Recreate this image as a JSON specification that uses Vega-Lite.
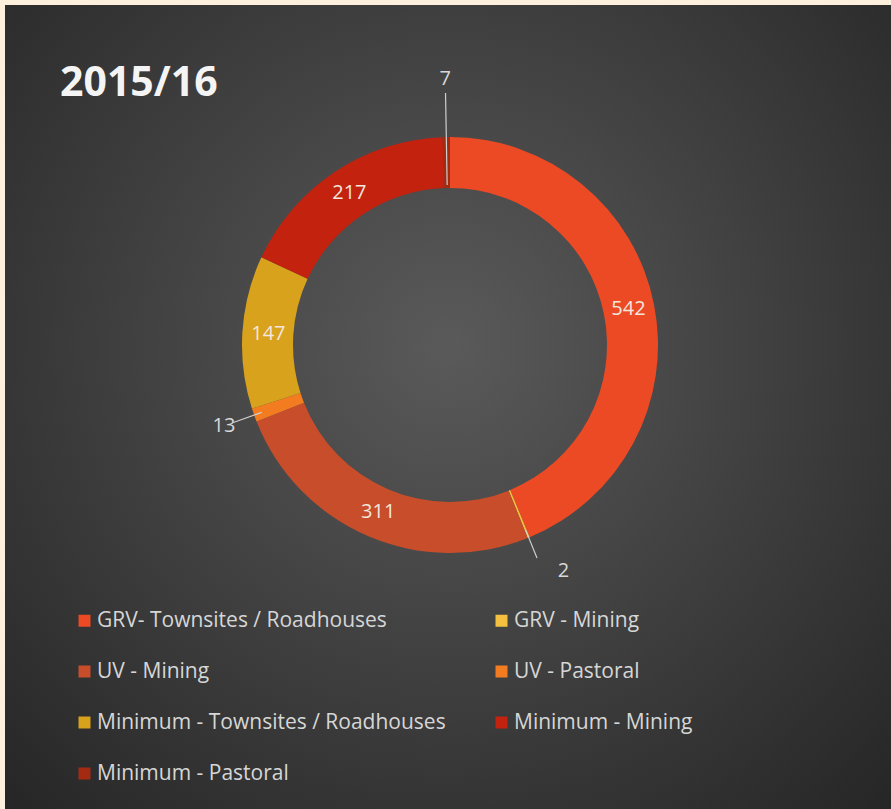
{
  "$schema": "https://vega.github.io/schema/vega-lite/v6.json",
  "width": 886,
  "height": 804,
  "autosize": "none",
  "padding": {"left": 5, "top": 5, "right": 0, "bottom": 0},
  "background": "#fdf0dc",
  "config": {"view": {"stroke": null}},
  "title": {
    "text": "2015/16",
    "anchor": "start",
    "frame": "group",
    "orient": "top",
    "offset": -100,
    "dx": 55,
    "font": "Open Sans",
    "fontSize": 41,
    "fontWeight": "bold",
    "color": "#f4f4f4"
  },
  "datasets": {
    "segments": [
      {"i": 1, "category": "GRV- Townsites / Roadhouses", "value": 542},
      {"i": 2, "category": "GRV - Mining", "value": 2},
      {"i": 3, "category": "UV - Mining", "value": 311},
      {"i": 4, "category": "UV - Pastoral", "value": 13},
      {"i": 5, "category": "Minimum -  Townsites / Roadhouses", "value": 147},
      {"i": 6, "category": "Minimum - Mining", "value": 217},
      {"i": 7, "category": "Minimum - Pastoral", "value": 7}
    ],
    "panel": [{"panel": "background"}]
  },
  "layer": [
    {
      "data": {"name": "panel"},
      "mark": {
        "type": "rect",
        "x": 0,
        "x2": "width",
        "y": 0,
        "y2": "height",
        "fill": {
          "gradient": "radial",
          "x1": 0.5, "y1": 0.43, "r1": 0,
          "x2": 0.5, "y2": 0.43, "r2": 0.72,
          "stops": [
            {"offset": 0, "color": "#5a5a5a"},
            {"offset": 1, "color": "#262626"}
          ]
        }
      },
      "encoding": {}
    },
    {
      "data": {"name": "segments"},
      "mark": {"type": "arc", "radius": 208, "radius2": 157, "x": 445, "y": 340},
      "encoding": {
        "theta": {"field": "value", "type": "quantitative", "stack": true},
        "order": {"field": "i", "type": "quantitative"},
        "color": {
          "field": "category",
          "type": "nominal",
          "sort": null,
          "scale": {
            "domain": ["GRV- Townsites / Roadhouses", "GRV - Mining", "UV - Mining", "UV - Pastoral", "Minimum -  Townsites / Roadhouses", "Minimum - Mining", "Minimum - Pastoral"],
            "range": ["#ec4a24", "#f5c040", "#c84d2a", "#f47c20", "#d8a21c", "#c2220e", "#a52a12"]
          },
          "legend": {
            "title": null,
            "orient": "none",
            "legendX": 69,
            "legendY": 605,
            "direction": "horizontal",
            "columns": 2,
            "columnPadding": 39,
            "rowPadding": 29,
            "symbolType": "square",
            "symbolSize": 144,
            "symbolStrokeWidth": 0,
            "symbolOffset": 0,
            "labelFont": "Open Sans",
            "labelFontSize": 21,
            "labelColor": "#d6d6d6",
            "labelLimit": 420,
            "labelOffset": 2
          }
        }
      }
    },
    {
      "data": {"name": "segments"},
      "mark": {"type": "arc", "radius": 252, "radius2": 160, "x": 445, "y": 340, "padAngle": 0.5, "fill": "transparent", "stroke": "#cfcfcf", "strokeWidth": 1.2},
      "encoding": {
        "theta": {"field": "value", "type": "quantitative", "stack": true},
        "order": {"field": "i", "type": "quantitative"},
        "strokeOpacity": {"condition": {"test": "datum.value == 7", "value": 1}, "value": 0}
      }
    },
    {
      "data": {"name": "segments"},
      "mark": {"type": "arc", "radius": 230, "radius2": 200, "x": 445, "y": 340, "padAngle": 0.5, "fill": "transparent", "stroke": "#cfcfcf", "strokeWidth": 1.2},
      "encoding": {
        "theta": {"field": "value", "type": "quantitative", "stack": true},
        "order": {"field": "i", "type": "quantitative"},
        "strokeOpacity": {"condition": {"test": "datum.value == 13 || datum.value == 2", "value": 1}, "value": 0}
      }
    },
    {
      "data": {"name": "segments"},
      "mark": {"type": "text", "radius": 182, "x": 445, "y": 340, "font": "Open Sans", "fontSize": 20, "fill": "#f3e6df"},
      "encoding": {
        "theta": {"field": "value", "type": "quantitative", "stack": true},
        "order": {"field": "i", "type": "quantitative"},
        "text": {"condition": {"test": "datum.value > 50", "field": "value", "type": "quantitative"}, "value": ""}
      }
    },
    {
      "data": {"name": "segments"},
      "mark": {"type": "text", "radius": 266, "x": 445, "y": 340, "font": "Open Sans", "fontSize": 20, "fill": "#d8d8d8"},
      "encoding": {
        "theta": {"field": "value", "type": "quantitative", "stack": true},
        "order": {"field": "i", "type": "quantitative"},
        "text": {"condition": {"test": "datum.value == 7", "field": "value", "type": "quantitative"}, "value": ""}
      }
    },
    {
      "data": {"name": "segments"},
      "mark": {"type": "text", "radius": 240, "x": 445, "y": 340, "font": "Open Sans", "fontSize": 20, "fill": "#d8d8d8"},
      "encoding": {
        "theta": {"field": "value", "type": "quantitative", "stack": true},
        "order": {"field": "i", "type": "quantitative"},
        "text": {"condition": {"test": "datum.value == 13", "field": "value", "type": "quantitative"}, "value": ""}
      }
    },
    {
      "data": {"name": "segments"},
      "mark": {"type": "text", "radius": 250, "x": 445, "y": 340, "dx": 19, "dy": -5, "font": "Open Sans", "fontSize": 20, "fill": "#d8d8d8"},
      "encoding": {
        "theta": {"field": "value", "type": "quantitative", "stack": true},
        "order": {"field": "i", "type": "quantitative"},
        "text": {"condition": {"test": "datum.value == 2", "field": "value", "type": "quantitative"}, "value": ""}
      }
    }
  ]
}
